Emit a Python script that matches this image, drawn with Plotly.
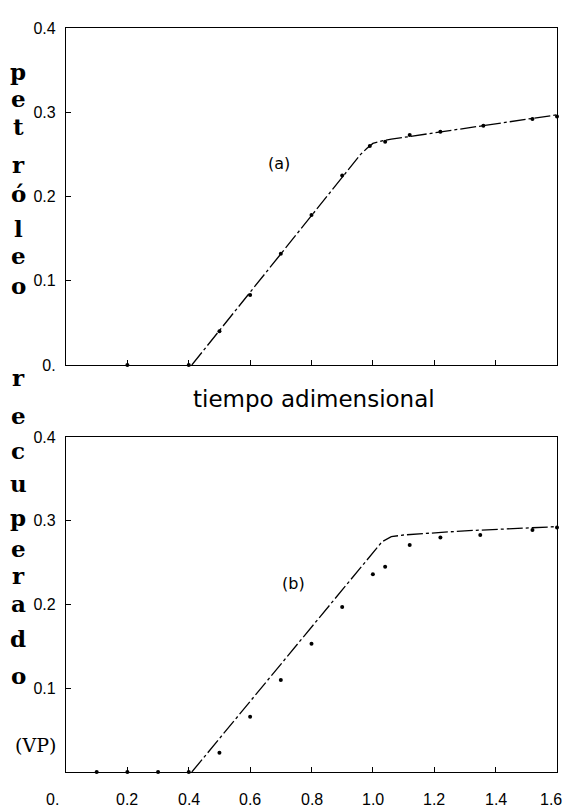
import plotly.graph_objects as go

# ---------------- data ----------------
# panel (a): measured points
a_pts_x = [0.2, 0.4, 0.5, 0.6, 0.7, 0.8, 0.9, 0.99, 1.04, 1.12, 1.22, 1.36, 1.52, 1.6]
a_pts_y = [0.0, 0.0, 0.040, 0.083, 0.132, 0.178, 0.225, 0.260, 0.265, 0.273, 0.277, 0.284, 0.292, 0.295]
# panel (a): model curve
a_curve_x = [0.41, 0.96, 0.98, 1.0, 1.03, 1.06, 1.6]
a_curve_y = [0.0, 0.250, 0.257, 0.263, 0.266, 0.268, 0.297]

# panel (b): measured points
b_pts_x = [0.1, 0.2, 0.3, 0.4, 0.5, 0.6, 0.7, 0.8, 0.9, 1.0, 1.04, 1.12, 1.22, 1.35, 1.52, 1.6]
b_pts_y = [0.0, 0.0, 0.0, 0.0, 0.023, 0.066, 0.110, 0.153, 0.197, 0.236, 0.245, 0.271, 0.280, 0.283, 0.289, 0.292]
# panel (b): model curve
b_curve_x = [0.41, 0.99, 1.01, 1.03, 1.06, 1.1, 1.3, 1.6]
b_curve_y = [0.0, 0.256, 0.266, 0.275, 0.281, 0.283, 0.288, 0.293]

x_tick_vals = [0.0, 0.2, 0.4, 0.6, 0.8, 1.0, 1.2, 1.4, 1.6]
x_tick_text = ["0.", "0.2", "0.4", "0.6", "0.8", "1.0", "1.2", "1.4", "1.6"]
ya_tick_vals = [0.0, 0.1, 0.2, 0.3, 0.4]
ya_tick_text = ["0.", "0.1", "0.2", "0.3", "0.4"]
yb_tick_vals = [0.1, 0.2, 0.3, 0.4]
yb_tick_text = ["0.1", "0.2", "0.3", "0.4"]

W, H = 568, 807

fig = go.Figure()

dash = "16px,3px,3px,3px"
line_style = dict(color="black", width=1.3, dash=dash)
mark_style = dict(color="black", size=4, symbol="circle")

fig.add_trace(go.Scatter(x=a_curve_x, y=a_curve_y, mode="lines", line=line_style,
                         xaxis="x", yaxis="y", showlegend=False, cliponaxis=False))
fig.add_trace(go.Scatter(x=a_pts_x, y=a_pts_y, mode="markers", marker=mark_style,
                         xaxis="x", yaxis="y", showlegend=False, cliponaxis=False))
fig.add_trace(go.Scatter(x=b_curve_x, y=b_curve_y, mode="lines", line=line_style,
                         xaxis="x2", yaxis="y2", showlegend=False, cliponaxis=False))
fig.add_trace(go.Scatter(x=b_pts_x, y=b_pts_y, mode="markers", marker=mark_style,
                         xaxis="x2", yaxis="y2", showlegend=False, cliponaxis=False))

xdom = [66 / W, 557 / W]
ya_dom = [1 - 365 / H, 1 - 28 / H]
yb_dom = [1 - 772 / H, 1 - 437 / H]

tickfont = dict(family="Liberation Sans", size=16, color="black")
common_x = dict(range=[0, 1.6], showgrid=False, zeroline=False, showline=True,
                linecolor="black", linewidth=1.3, mirror=True, ticks="inside",
                ticklen=5, tickcolor="black", tickvals=x_tick_vals, automargin=False,
                showticklabels=False)
common_y = dict(range=[0, 0.4], showgrid=False, zeroline=False, showline=True,
                linecolor="black", linewidth=1.3, mirror=True, ticks="inside",
                ticklen=5, tickcolor="black", automargin=False, tickfont=tickfont,
                ticklabelstandoff=6)

fig.update_layout(
    width=W, height=H,
    margin=dict(l=0, r=0, t=0, b=0),
    paper_bgcolor="white", plot_bgcolor="white",
    xaxis=dict(domain=xdom, anchor="y", **common_x),
    yaxis=dict(domain=ya_dom, anchor="x", tickvals=ya_tick_vals, ticktext=ya_tick_text, **common_y),
    xaxis2=dict(domain=xdom, anchor="y2", **common_x),
    yaxis2=dict(domain=yb_dom, anchor="x2", tickvals=yb_tick_vals, ticktext=yb_tick_text, **common_y),
)

ann = []
# x tick labels of the lower panel (drawn as text at the axis' own positions)
for v, t in zip(x_tick_vals, x_tick_text):
    shift = 0
    if v == 0.0:
        shift = -14
    elif v == 1.6:
        shift = -6
    ann.append(dict(x=v, y=0, xref="x2", yref="y2", text=t, showarrow=False,
                    xanchor="center", yanchor="middle", xshift=shift, yshift=-27,
                    font=dict(family="Liberation Sans", size=16, color="black")))

letter_font = dict(family="DejaVu Serif", size=23, color="black", weight="bold")
letters = [("p", 72), ("e", 98), ("t", 126), ("r", 164), ("ó", 194), ("l", 228), ("e", 255), ("o", 285),
           ("r", 378), ("e", 415), ("c", 451), ("u", 483), ("p", 517), ("e", 548), ("r", 575),
           ("a", 603), ("d", 638), ("o", 675)]
for ch, yp in letters:
    ann.append(dict(x=18 / W, y=1 - yp / H, xref="paper", yref="paper", text=ch, showarrow=False,
                    xanchor="center", yanchor="middle", font=letter_font))
ann.append(dict(x=35 / W, y=1 - 745 / H, xref="paper", yref="paper", text="(VP)", showarrow=False,
                xanchor="center", yanchor="middle", font=dict(family="DejaVu Serif", size=19, color="black")))
ann.append(dict(x=314 / W, y=1 - 399 / H, xref="paper", yref="paper", text="tiempo adimensional",
                showarrow=False, xanchor="center", yanchor="middle",
                font=dict(family="DejaVu Sans", size=23, color="black")))
ann.append(dict(x=279 / W, y=1 - 163 / H, xref="paper", yref="paper", text="(a)", showarrow=False,
                xanchor="center", yanchor="middle", font=dict(family="DejaVu Sans", size=16, color="black")))
ann.append(dict(x=293 / W, y=1 - 583 / H, xref="paper", yref="paper", text="(b)", showarrow=False,
                xanchor="center", yanchor="middle", font=dict(family="DejaVu Sans", size=16, color="black")))
fig.update_layout(annotations=ann)

fig.write_html("out.html")
